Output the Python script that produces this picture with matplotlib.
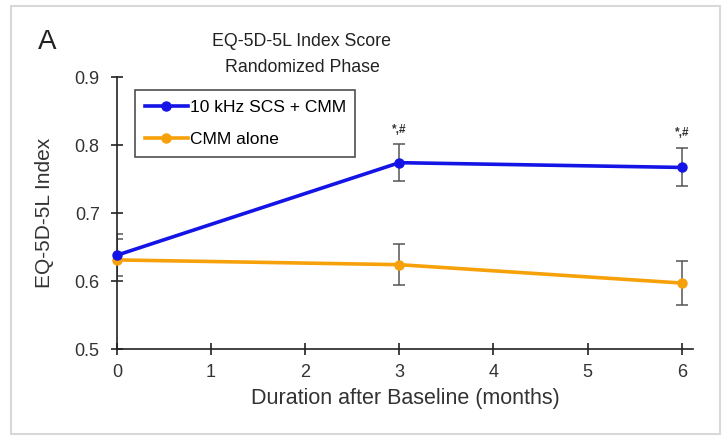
import matplotlib
matplotlib.use("Agg")
import matplotlib.pyplot as plt
from matplotlib.patches import Rectangle

months = [0, 3, 6]
scs_mean = [0.638, 0.774, 0.767]
scs_err = [0.031, 0.027, 0.028]
cmm_mean = [0.631, 0.624, 0.597]
cmm_err = [0.031, 0.030, 0.033]
sig_months = [3, 6]
sig_y = [0.822, 0.818]
sig_label = "*,#"
labels = ["10 kHz SCS + CMM", "CMM alone"]
xticks = [0, 1, 2, 3, 4, 5, 6]
yticks = [0.5, 0.6, 0.7, 0.8, 0.9]

plt.rcParams['font.family'] = ['Liberation Sans', 'DejaVu Sans']

fig = plt.figure(figsize=(7.22, 4.36), dpi=100)
fig.patches.append(Rectangle((11/722, 1-434/436), (720-11)/722, (434-6)/436,
                             transform=fig.transFigure, fill=False,
                             edgecolor='#d8d8d8', linewidth=1.5))
ax = fig.add_axes([117/722, 1-349/436, (693-117)/722, (349-77)/436])

blue = '#1414e6'
orange = '#f7a10a'
errc = '#555555'
txtc = '#333333'

ax.errorbar(months, scs_mean, yerr=scs_err, fmt='none', ecolor=errc,
            elinewidth=1.1, capsize=4, capthick=1.1, zorder=2)
ax.errorbar(months, cmm_mean, yerr=cmm_err, fmt='none', ecolor=errc,
            elinewidth=1.1, capsize=4, capthick=1.1, zorder=2)
ax.plot(months, scs_mean, color=blue, lw=2.6, marker='o', ms=6.5,
        label=labels[0], zorder=4, clip_on=False)
ax.plot(months, cmm_mean, color=orange, lw=2.6, marker='o', ms=6.5,
        label=labels[1], zorder=3, clip_on=False)

for xm, ym in zip(sig_months, sig_y):
    ax.text(xm, ym, sig_label, ha='center', va='center', fontsize=8.5,
            fontweight='bold', color='#333333')

ax.set_xlim(0, 6.12)
ax.set_ylim(0.5, 0.9)
ax.set_xticks(xticks)
ax.set_yticks(yticks)
ax.set_yticklabels([f"{v:.1f}" for v in yticks])
ax.spines['top'].set_visible(False)
ax.spines['right'].set_visible(False)
for s in ['left', 'bottom']:
    ax.spines[s].set_color('#222222')
    ax.spines[s].set_linewidth(1.2)
ax.tick_params(direction='inout', length=9, width=1.2, color='#222222',
               labelsize=13, labelcolor=txtc)
ax.tick_params(axis='y', pad=8)
ax.tick_params(axis='x', pad=6)

fig.text(405/722, 1-398/436, "Duration after Baseline (months)", ha='center', va='center',
         fontsize=15.5, color=txtc)
fig.text(45/722, 1-213/436, "EQ-5D-5L Index", ha='center', va='center',
         rotation=90, fontsize=15, color=txtc)

leg = ax.legend(loc='upper left', bbox_to_anchor=((135-117)/576, (349-90)/272),
                borderaxespad=0, fontsize=12.5,
                frameon=True, fancybox=False, edgecolor='#222222',
                handlelength=2.5, borderpad=0.55, labelspacing=1.0, handletextpad=0.1)
leg.get_frame().set_linewidth(1.2)

fig.text(302/722, 1-42/436, "EQ-5D-5L Index Score", ha='center', va='center',
         fontsize=12.8, color='#222222')
fig.text(302/722, 1-67/436, "Randomized Phase", ha='center', va='center',
         fontsize=12.8, color='#222222')
fig.text(38/722, 1-42/436, "A", ha='left', va='center', fontsize=20, color='#222222')

fig.savefig("out.png", dpi=100)
